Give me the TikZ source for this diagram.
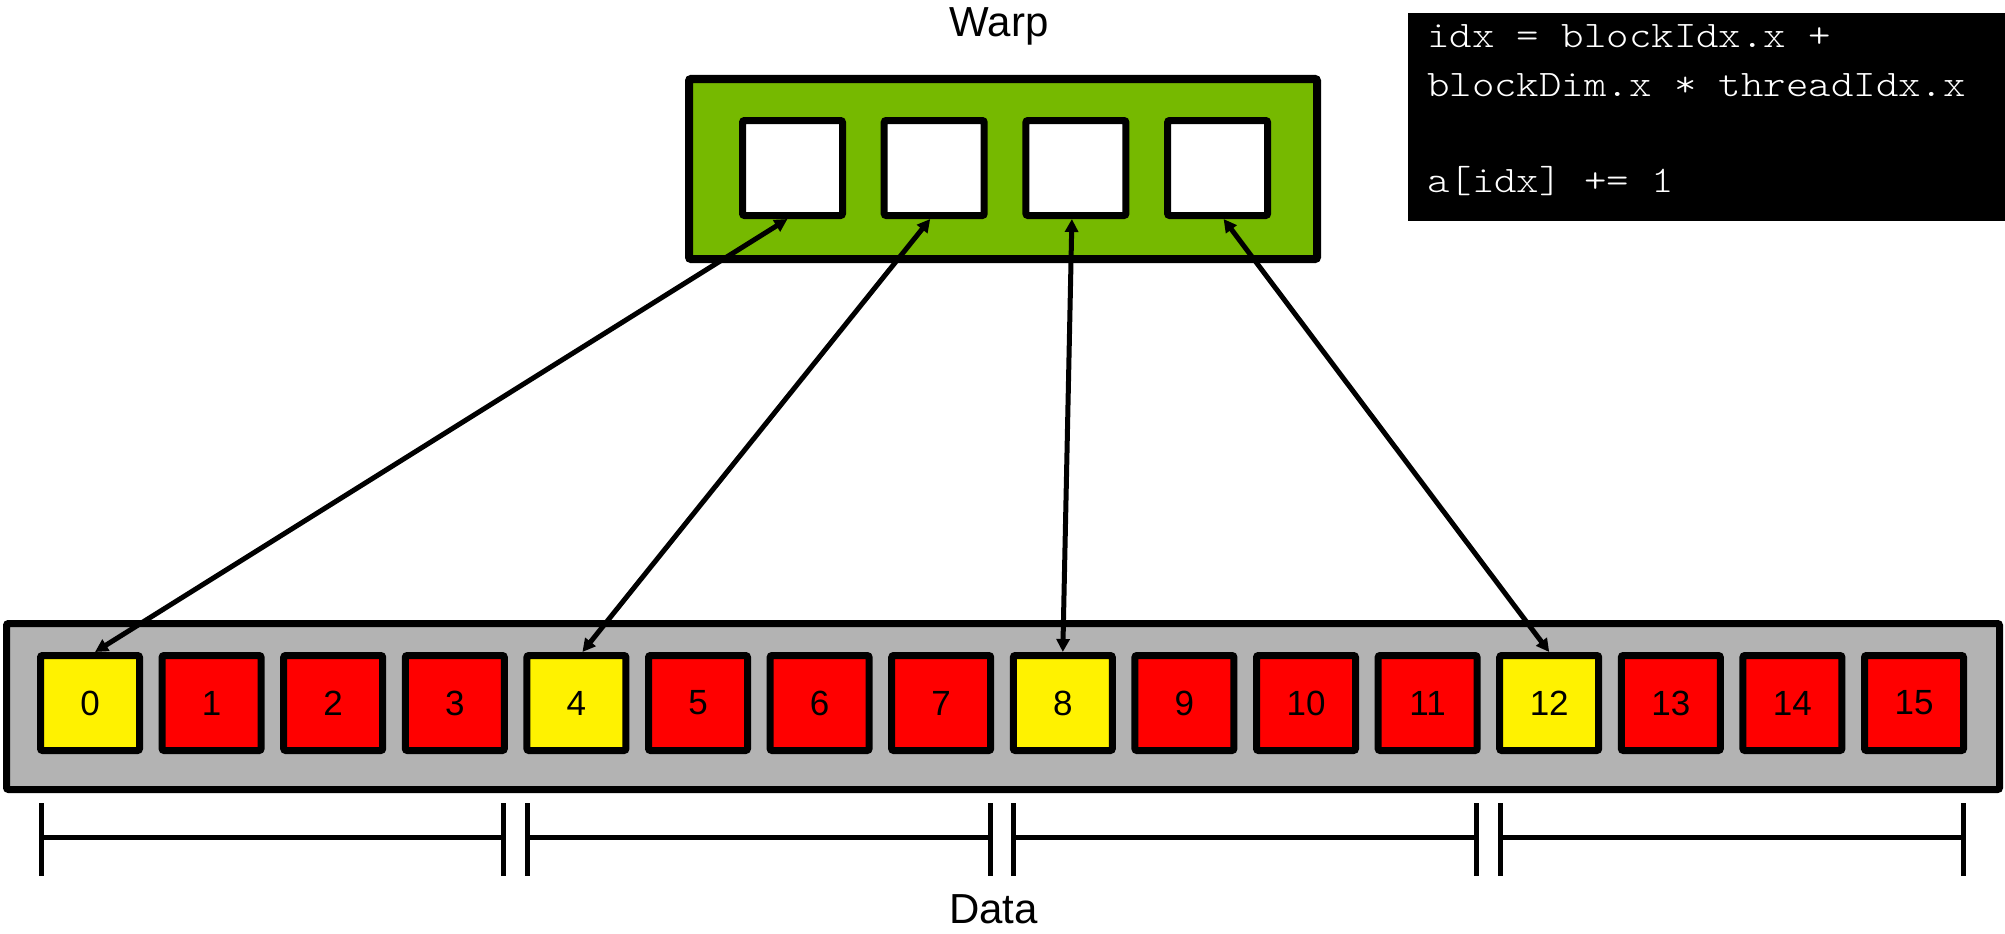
\documentclass[tikz,border=0pt]{standalone}
\usepackage{fontspec}
\setmainfont{Liberation Sans}
\newfontfamily\codefont{lmmonolt10-regular}[Extension=.otf, FakeStretch=1.14]
\usepackage{xcolor}
\usepackage{tikz}
\usetikzlibrary{calc, arrows.meta}

\definecolor{nvgreen}{RGB}{118,185,0}
\definecolor{arraygray}{RGB}{179,179,179}

\tikzset{
	datacell/.style={draw, line width=7pt, rounded corners=2pt, minimum width=99pt, minimum height=95pt, inner sep=0pt, font=\fontsize{35}{40}\selectfont},
	lanecell/.style={draw, fill=white, line width=7pt, rounded corners=2pt, minimum width=100pt, minimum height=95pt, inner sep=0pt},
	link/.style={{Triangle[length=13pt,width=13pt]}-{Triangle[length=13pt,width=13pt]}, line width=5pt},
	grouprule/.style={line width=5pt},
	codeline/.style={anchor=base west, inner sep=0pt, text=white, font=\codefont\fontsize{37.5}{44}\selectfont}
}

\begin{document}
\begin{tikzpicture}[x=1pt, y=-1pt]
		\def\dx{121.6};
		\def\wx{141.7};
		\useasboundingbox (0,0) rectangle (2005,934);
	
		\node[font=\fontsize{42}{50}\selectfont, anchor=base, inner sep=0pt] (warp) at (999,37) {Warp};
	
		\node[draw, fill=nvgreen, line width=8pt, rounded corners=2pt, minimum width=628pt, minimum height=180pt] (warpbox) at (1003,169) {};
		\foreach \w in {1,...,4}
		{
			\node[lanecell] (w\w) at (792.5 + \wx*\w - \wx,168) {};
		}
	
		\node[fill=black, anchor=north west, inner sep=0pt, minimum width=597pt, minimum height=208pt] (code) at (1408,13) {};
		\node[codeline] (code1) at (1427,48) {idx = blockIdx.x +};
		\node[codeline] (code2) at (1427,96) {blockDim.x * threadIdx.x};
		\node[codeline] (code3) at (1427,192) {a[idx] += 1};
	
		\node[draw, fill=arraygray, line width=7pt, rounded corners=2pt, minimum width=1993pt, minimum height=166pt] (array) at (1003,706.5) {};
		\foreach \i in {0,...,15}
		{
			\pgfmathtruncatemacro\r{mod(\i,4)}
			\ifnum\r=0 \def\c{yellow}\else\def\c{red}\fi
			\node[datacell, fill=\c] (d\i) at (90 + \dx*\i,703) {\i};
		}
	
		\foreach \w/\d/\s/\t in {1/0/-5/5, 2/4/-4/6, 3/8/-4/0, 4/12/6/0}
		{
			\draw[link] ([xshift=\s pt]w\w.south) -- ([xshift=\t pt]d\d.north);
		}
	
		\coordinate (rule) at (0,837);
		\foreach \g in {0,...,3}
		{
			\pgfmathtruncatemacro\a{4*\g}
			\pgfmathtruncatemacro\b{4*\g + 3}
			\coordinate (l\g) at ($ (d\a.west |- rule) + (4,0) $);
			\coordinate (r\g) at ($ (d\b.east |- rule) + (-4,0) $);
	
			\draw[grouprule] (l\g) -- (r\g);
			\draw[grouprule] ($ (l\g) + (0,-34) $) -- ($ (l\g) + (0,39) $);
			\draw[grouprule] ($ (r\g) + (0,-34) $) -- ($ (r\g) + (0,39) $);
		}
	
		\node[font=\fontsize{42}{50}\selectfont, anchor=base, inner sep=0pt] (data) at (993.5,923) {Data};
	\end{tikzpicture}
\end{document}
